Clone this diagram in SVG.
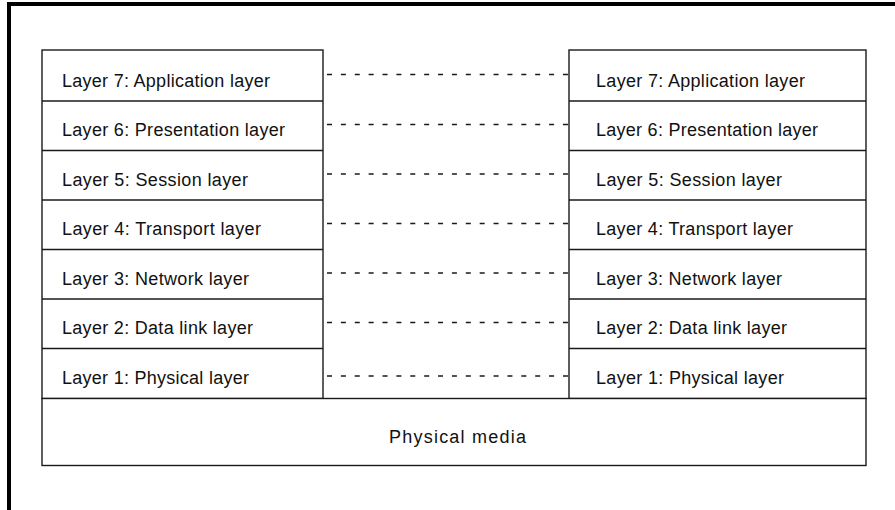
<svg xmlns="http://www.w3.org/2000/svg" width="895" height="510" viewBox="0 0 895 510">
  <style>
    .box { fill: #ffffff; stroke: #1a1a1a; stroke-width: 1.4; }
    .sep { stroke: #1a1a1a; stroke-width: 1.4; }
    .lbl { font-family: "Liberation Sans", Arial, sans-serif; font-size: 18px; fill: #111111; }
    .peer { stroke: #1a1a1a; stroke-width: 1.5; stroke-dasharray: 5 8.88; fill: none; }
  </style>

  <rect width="895" height="510" fill="#ffffff"/>

  <!-- outer frame -->
  <path d="M9 510 V4 H895" fill="none" stroke="#000000" stroke-width="4"/>

  <!-- left protocol stack -->
  <g id="stack-left">
    <rect class="box" x="42" y="50" width="281" height="348.5"/>
    <line class="sep" x1="42" y1="101" x2="323" y2="101"/>
    <line class="sep" x1="42" y1="150.5" x2="323" y2="150.5"/>
    <line class="sep" x1="42" y1="200" x2="323" y2="200"/>
    <line class="sep" x1="42" y1="249.5" x2="323" y2="249.5"/>
    <line class="sep" x1="42" y1="299" x2="323" y2="299"/>
    <line class="sep" x1="42" y1="348.5" x2="323" y2="348.5"/>
    <g id="left-l7"><text class="lbl" x="62" y="86.5" textLength="208" lengthAdjust="spacing">Layer 7: Application layer</text></g>
    <g id="left-l6"><text class="lbl" x="62" y="136" textLength="223" lengthAdjust="spacing">Layer 6: Presentation layer</text></g>
    <g id="left-l5"><text class="lbl" x="62" y="185.5" textLength="186" lengthAdjust="spacing">Layer 5: Session layer</text></g>
    <g id="left-l4"><text class="lbl" x="62" y="235" textLength="199" lengthAdjust="spacing">Layer 4: Transport layer</text></g>
    <g id="left-l3"><text class="lbl" x="62" y="284.5" textLength="187" lengthAdjust="spacing">Layer 3: Network layer</text></g>
    <g id="left-l2"><text class="lbl" x="62" y="334" textLength="191" lengthAdjust="spacing">Layer 2: Data link layer</text></g>
    <g id="left-l1"><text class="lbl" x="62" y="383.5" textLength="187" lengthAdjust="spacing">Layer 1: Physical layer</text></g>
  </g>

  <!-- right protocol stack -->
  <g id="stack-right">
    <rect class="box" x="569" y="50" width="297" height="348.5"/>
    <line class="sep" x1="569" y1="101" x2="866" y2="101"/>
    <line class="sep" x1="569" y1="150.5" x2="866" y2="150.5"/>
    <line class="sep" x1="569" y1="200" x2="866" y2="200"/>
    <line class="sep" x1="569" y1="249.5" x2="866" y2="249.5"/>
    <line class="sep" x1="569" y1="299" x2="866" y2="299"/>
    <line class="sep" x1="569" y1="348.5" x2="866" y2="348.5"/>
    <g id="right-l7"><text class="lbl" x="596" y="86.5" textLength="209" lengthAdjust="spacing">Layer 7: Application layer</text></g>
    <g id="right-l6"><text class="lbl" x="596" y="136" textLength="222" lengthAdjust="spacing">Layer 6: Presentation layer</text></g>
    <g id="right-l5"><text class="lbl" x="596" y="185.5" textLength="186" lengthAdjust="spacing">Layer 5: Session layer</text></g>
    <g id="right-l4"><text class="lbl" x="596" y="235" textLength="197" lengthAdjust="spacing">Layer 4: Transport layer</text></g>
    <g id="right-l3"><text class="lbl" x="596" y="284.5" textLength="186" lengthAdjust="spacing">Layer 3: Network layer</text></g>
    <g id="right-l2"><text class="lbl" x="596" y="334" textLength="191" lengthAdjust="spacing">Layer 2: Data link layer</text></g>
    <g id="right-l1"><text class="lbl" x="596" y="383.5" textLength="188" lengthAdjust="spacing">Layer 1: Physical layer</text></g>
  </g>

  <!-- shared medium -->
  <g id="media">
    <rect class="box" x="42" y="398.5" width="824" height="67"/>
    <text class="lbl" x="389" y="443" textLength="137" lengthAdjust="spacing">Physical media</text>
  </g>

  <!-- peer-to-peer links between matching layers -->
  <g id="connectors">
    <line class="peer" x1="327" y1="74.5" x2="569" y2="74.5"/>
    <line class="peer" x1="327" y1="124.5" x2="569" y2="124.5"/>
    <line class="peer" x1="327" y1="174" x2="569" y2="174"/>
    <line class="peer" x1="327" y1="223.5" x2="569" y2="223.5"/>
    <line class="peer" x1="327" y1="273" x2="569" y2="273"/>
    <line class="peer" x1="327" y1="322.5" x2="569" y2="322.5"/>
    <line class="peer" x1="327" y1="376" x2="569" y2="376"/>
  </g>
</svg>
